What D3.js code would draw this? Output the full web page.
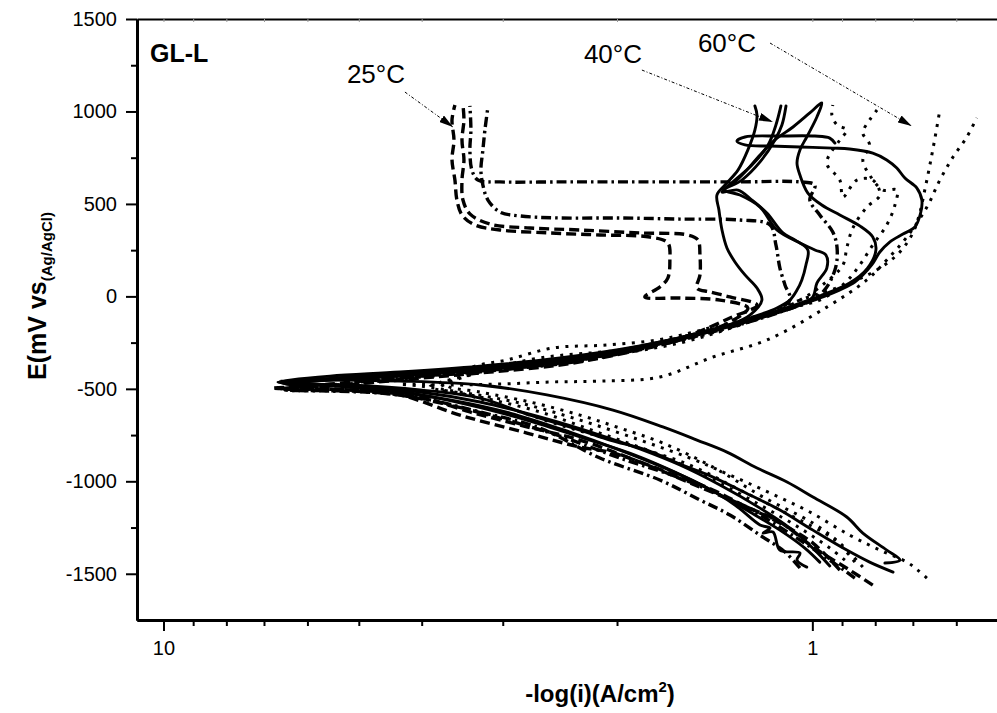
<!DOCTYPE html>
<html><head><meta charset="utf-8">
<script src="https://cdn.jsdelivr.net/npm/d3@7"></script>
<style>
body{margin:0;background:#fff}
svg{display:block}
text{font-family:"Liberation Sans",Arial,Helvetica,sans-serif;fill:#000}
</style>
</head><body>
<svg id="chart" width="997" height="713"></svg>
<script>
// ---------- tick values ----------
const xMajorTicks = [10, 1];
const xMinorTicks = [9, 8, 7, 6, 5, 4, 3, 2, 0.9, 0.8, 0.7, 0.6];
const yMajorTicks = [-1500, -1000, -500, 0, 500, 1000, 1500];
const yMinorTicks = [-1250, -750, -250, 250, 750, 1250];

// ---------- 25 °C curves  [ -log(i) , E (mV) ] ----------
const t25a = [[0.807,-1561],[0.876,-1480],[0.998,-1355],[1.122,-1220],[1.261,-1139],[1.423,-1047],[1.600,-977],[2.029,-847],[2.281,-815],[2.753,-739],[3.492,-642],[4.321,-533],[5.160,-506],[6.161,-501],[6.804,-496],
 [5.539,-485],[4.321,-452],[3.253,-414],[2.449,-371],[1.911,-301],[1.545,-220],[1.340,-139],[1.257,-63],[1.388,-20],[1.600,-9],[1.812,-3],[1.718,51],[1.670,99],[1.658,197],[1.670,289],[1.780,321],[2.125,332],[2.537,343],[3.030,359],[3.311,386],[3.467,440],[3.530,521],[3.555,629],[3.592,738],[3.567,846],[3.592,954],[3.555,1035]];
const t25b = [[0.907,-1480],[0.998,-1334],[1.122,-1226],[1.261,-1139],[1.490,-1031],[1.844,-896],[2.281,-777],[2.823,-696],[3.371,-625],[4.025,-544],[4.807,-512],[5.739,-501],[6.614,-501],
 [5.539,-474],[4.321,-441],[3.253,-404],[2.449,-360],[1.911,-290],[1.545,-209],[1.340,-117],[1.217,-47],[1.340,-3],[1.438,24],[1.506,45],[1.490,116],[1.490,224],[1.501,305],[1.556,332],[1.844,343],[2.281,359],[2.724,370],[3.140,391],[3.371,446],[3.455,521],[3.467,629],[3.443,738],[3.467,846],[3.443,954],[3.455,1035]];
const t25c = [[0.860,-1523],[0.940,-1426],[1.045,-1318],[1.204,-1182],[1.388,-1074],[1.600,-982],[1.980,-874],[2.449,-755],[3.030,-658],[3.618,-588],[4.321,-533],[5.160,-512],[6.385,-506],
 [5.346,-474],[4.025,-431],[3.030,-393],[2.281,-344],[1.780,-263],[1.438,-182],[1.204,-106],[1.083,-20],[1.102,62],[1.122,153],[1.138,278],[1.162,386],[1.293,413],[1.600,418],[1.980,424],[2.449,424],[2.823,435],[3.030,456],[3.162,521],[3.219,602],[3.242,683],[3.219,792],[3.196,900],[3.162,1024]];
const t25d = [[1.045,-1469],[1.102,-1382],[1.204,-1291],[1.340,-1182],[1.490,-1101],[1.718,-993],[2.125,-874],[2.630,-712],[3.253,-625],[3.885,-560],[4.639,-523],[5.539,-512],[6.498,-506],
 [5.346,-479],[4.025,-436],[3.030,-398],[2.281,-350],[1.780,-274],[1.388,-182],[1.122,-85],[0.974,7],[0.923,143],[0.916,262],[0.930,348],[0.974,440],[1.009,521],[0.991,602],[1.045,619],[1.293,619],[1.600,619],[1.980,619],[2.449,619],[3.030,619],[3.276,629],[3.347,683],[3.371,792],[3.359,900],[3.371,1030]];

// ---------- 40 °C curves ----------
const t40a = [[0.940,-1458],[0.991,-1372],[1.083,-1253],[1.204,-1145],[1.388,-1020],[1.600,-912],[1.844,-825],[2.125,-750],[2.630,-652],[3.253,-571],[4.025,-517],[5.160,-485],[6.385,-469],[6.661,-463],
 [5.539,-452],[4.321,-431],[3.253,-398],[2.449,-355],[1.911,-290],[1.545,-220],[1.340,-155],[1.248,-101],[1.196,-20],[1.217,45],[1.270,116],[1.316,186],[1.354,262],[1.378,359],[1.393,467],[1.403,548],[1.364,602],[1.302,683],[1.257,792],[1.226,900],[1.217,981],[1.226,1030]];
const t40b = [[1.020,-1464],[1.056,-1426],[1.045,-1388],[1.122,-1372],[1.150,-1274],[1.191,-1280],[1.162,-1253],[1.204,-1236],[1.316,-1128],[1.490,-1015],[1.718,-917],[1.980,-831],[2.364,-734],[2.925,-631],[3.618,-560],[4.639,-506],[5.739,-479],[6.567,-469],
 [5.346,-441],[4.025,-414],[3.030,-377],[2.281,-328],[1.780,-258],[1.438,-182],[1.248,-117],[1.134,-63],[1.083,-20],[1.056,34],[1.038,89],[1.023,170],[1.016,251],[1.064,305],[1.110,343],[1.175,451],[1.239,521],[1.302,575],[1.378,564],[1.316,629],[1.239,710],[1.170,819],[1.138,927],[1.118,1030]];
const t40c = [[0.751,-1491],[0.816,-1437],[0.885,-1372],[0.998,-1264],[1.122,-1155],[1.248,-1074],[1.423,-977],[1.600,-907],[1.799,-831],[2.051,-777],[2.281,-723],[2.724,-642],[3.253,-550],[4.025,-506],[5.160,-479],[6.498,-469],
 [5.160,-436],[3.885,-404],[2.925,-371],[2.202,-323],[1.718,-252],[1.388,-171],[1.162,-90],[0.974,2],[0.876,72],[0.822,153],[0.798,251],[0.807,321],[0.845,381],[0.907,440],[0.967,494],[1.016,559],[1.045,656],[1.056,721],[1.045,792],[1.020,862],[0.984,970],[0.967,1046],[1.009,992],[1.071,916],[1.142,846],[1.204,765],[1.270,672],[1.331,602]];
const t40d = [[0.773,-1442],[0.733,-1426],[0.768,-1372],[0.836,-1280],[0.885,-1193],[0.998,-1085],[1.094,-1004],[1.217,-928],[1.354,-842],[1.506,-777],[1.700,-706],[2.029,-615],[2.565,-533],[3.253,-479],[4.321,-458],[5.739,-452],[6.614,-458],
 [5.539,-431],[4.321,-409],[3.253,-377],[2.449,-333],[1.844,-268],[1.438,-187],[1.162,-95],[0.974,-9],[0.860,78],[0.810,170],[0.787,240],[0.760,294],[0.725,337],[0.695,375],[0.681,451],[0.678,521],[0.690,586],[0.720,640],[0.741,694],[0.768,738],[0.807,775],[0.876,797],[0.930,802],[1.045,808],[1.162,813],[1.270,819],[1.307,840],[1.270,862],[1.122,867],[0.991,867],[0.940,856],[0.923,829]];
const t40e = [[0.974,-1437],[1.027,-1361],[1.122,-1264],[1.248,-1166],[1.413,-1058],[1.629,-950],[1.877,-858],[2.202,-777],[2.724,-674],[3.371,-588],[4.321,-512],[5.539,-479],[6.498,-474],
 [5.346,-447],[4.025,-420],[3.030,-382],[2.281,-339],[1.780,-268],[1.388,-177],[1.162,-101],[1.045,-47],[0.998,-3],[0.984,72],[0.950,153],[0.953,224],[0.991,251],[1.045,289],[1.134,359],[1.204,483],[1.293,548],[1.364,575],[1.284,629],[1.204,727],[1.142,846],[1.114,927],[1.098,1030]];

// ---------- 60 °C curves ----------
const t60a = [[0.666,-1523],[0.688,-1480],[0.715,-1437],[0.787,-1372],[0.876,-1291],[1.009,-1166],[1.162,-1063],[1.340,-966],[1.545,-874],[1.844,-777],[2.281,-669],[2.823,-577],[3.492,-517],[4.025,-485],[4.321,-474],
 [3.618,-479],[3.030,-474],[2.537,-463],[2.125,-458],[1.718,-436],[1.423,-328],[1.175,-236],[0.950,-58],[0.824,89],[0.768,197],[0.715,321],[0.666,483],[0.636,629],[0.607,754],[0.578,862],[0.558,965]];
const t60b = [[0.836,-1464],[0.907,-1334],[0.998,-1226],[1.191,-1085],[1.423,-923],[1.700,-793],[1.980,-712],[2.281,-642],[2.724,-571],[3.253,-517],[3.658,-479],
 [3.371,-387],[2.956,-344],[2.511,-279],[2.073,-263],[1.737,-236],[1.545,-198],[1.423,-166],[1.204,-101],[1.045,-20],[0.876,72],[0.787,153],[0.733,240],[0.700,343],[0.683,451],[0.671,575],[0.659,710],[0.648,846],[0.636,1008]];
const t60c = [[0.891,-1426],[0.940,-1361],[1.045,-1253],[1.204,-1128],[1.438,-982],[1.718,-858],[2.125,-739],[2.630,-625],[3.253,-544],[3.750,-496],
 [3.253,-409],[2.630,-333],[1.980,-290],[1.490,-214],[1.204,-117],[1.045,-20],[0.957,72],[0.897,170],[0.885,262],[0.866,370],[0.824,483],[0.787,548],[0.807,629],[0.854,629],[0.897,537],[0.907,629],[0.950,721],[0.907,846],[0.885,900],[0.916,927],[0.933,981],[0.930,1035]];
const t60d = [[0.860,-1437],[0.923,-1318],[1.083,-1182],[1.293,-1047],[1.545,-912],[1.911,-804],[2.449,-696],[3.030,-588],[3.492,-523],[3.885,-490],
 [3.371,-425],[2.724,-360],[2.125,-323],[1.600,-252],[1.293,-155],[1.083,-63],[0.974,-20],[0.891,72],[0.845,170],[0.807,278],[0.768,386],[0.746,494],[0.741,575],[0.778,575],[0.816,656],[0.836,738],[0.816,819],[0.836,884],[0.816,954],[0.795,1008]];

// ---------- annotations ----------
const tempLabels = [
  {text:"25°C", x:4.705, e:1154},
  {text:"40°C", x:2.029, e:1262},
  {text:"60°C", x:1.354, e:1321}
];
const tempArrows = [
  [[4.245,1105],[3.580,916]],
  [[1.831,1224],[1.150,943]],
  [[1.162,1370],[0.703,921]]
];

// ---------- layout ----------
const L = 137, R = 997, T = 19, B = 620;
const svg = d3.select("#chart");

const x = d3.scaleLog().domain([10.985, 0.5193]).range([L, R]);
const y = d3.scaleLinear().domain([-1750, 1500]).range([B, T]);

function styleAxis(g, w){
  g.select(".domain").attr("stroke","#000").attr("stroke-width",w);
  g.selectAll(".tick line").attr("stroke","#000").attr("stroke-width",2);
  g.selectAll(".tick text").attr("font-size",20).attr("font-family",'"Liberation Sans",Arial,sans-serif');
}
const gTop = svg.append("g").attr("transform",`translate(0,${T})`)
  .call(d3.axisTop(x).tickValues(xMajorTicks.concat(xMinorTicks)).tickSizeInner(-3).tickSizeOuter(0).tickFormat(""));
gTop.select(".domain").attr("stroke","#000").attr("stroke-width",2);
gTop.selectAll(".tick line").attr("stroke","#999").attr("stroke-width",1);

const gBMinor = svg.append("g").attr("transform",`translate(0,${B})`)
  .call(d3.axisBottom(x).tickValues(xMinorTicks).tickSize(6).tickSizeOuter(0).tickFormat(""));
styleAxis(gBMinor,3);
const gB = svg.append("g").attr("transform",`translate(0,${B})`)
  .call(d3.axisBottom(x).tickValues(xMajorTicks).tickSize(11).tickSizeOuter(0).tickPadding(10).tickFormat(d=>String(d)));
styleAxis(gB,3);

const gLMinor = svg.append("g").attr("transform",`translate(${L},0)`)
  .call(d3.axisLeft(y).tickValues(yMinorTicks).tickSize(6).tickSizeOuter(0).tickFormat(""));
styleAxis(gLMinor,3);
const gLAx = svg.append("g").attr("transform",`translate(${L},0)`)
  .call(d3.axisLeft(y).tickValues(yMajorTicks).tickSize(11).tickSizeOuter(0).tickPadding(9).tickFormat(d=>String(d)));
styleAxis(gLAx,3);

const xt = svg.append("text").attr("x",600).attr("y",702).attr("text-anchor","middle")
  .attr("font-size",24).attr("font-weight","bold");
xt.append("tspan").text("-log(i)(A/cm");
xt.append("tspan").attr("font-size",15).attr("dy",-10).text("2");
xt.append("tspan").attr("dy",10).text(")");

const yt = svg.append("text").attr("transform","translate(46,296) rotate(-90)").attr("text-anchor","middle")
  .attr("font-size",25).attr("font-weight","bold");
yt.append("tspan").text("E(mV vs");
yt.append("tspan").attr("font-size",15).attr("dy",6).text("(Ag/AgCl)");

svg.append("text").attr("x",150).attr("y",62).attr("font-size",25).attr("font-weight","bold").text("GL-L");

const line = d3.line().x(d=>x(d[0])).y(d=>y(d[1])).curve(d3.curveCatmullRom.alpha(0.5));
const styles = {
  dash:    {w:3.4, dash:"10,5",       cap:"butt"},
  dashdot: {w:3.4, dash:"10,4,2.5,4", cap:"butt"},
  solid:   {w:2.9, dash:null,         cap:"round"},
  dot:     {w:3,   dash:"3,6.5",      cap:"butt"}
};
const series = [
  {d:t60a,s:"dot"},{d:t60b,s:"dot"},{d:t60c,s:"dot"},{d:t60d,s:"dot"},
  {d:t25a,s:"dash"},{d:t25b,s:"dash"},{d:t25c,s:"dashdot"},{d:t25d,s:"dashdot"},
  {d:t40a,s:"solid"},{d:t40b,s:"solid"},{d:t40c,s:"solid"},{d:t40d,s:"solid"},{d:t40e,s:"solid"}
];
const gc = svg.append("g");
series.forEach(sr=>{
  const st = styles[sr.s];
  gc.append("path").attr("d",line(sr.d)).attr("fill","none").attr("stroke","#000")
    .attr("stroke-width",st.w).attr("stroke-dasharray",st.dash).attr("stroke-linecap",st.cap)
    .attr("stroke-linejoin","round");
});

const defs = svg.append("defs");
defs.append("marker").attr("id","ah").attr("viewBox","0 0 14 8").attr("refX",14).attr("refY",4)
  .attr("markerWidth",14).attr("markerHeight",8).attr("markerUnits","userSpaceOnUse").attr("orient","auto")
  .append("path").attr("d","M0,0 L14,4 L0,8 Z").attr("fill","#000");
tempArrows.forEach(a=>{
  svg.append("line").attr("x1",x(a[0][0])).attr("y1",y(a[0][1])).attr("x2",x(a[1][0])).attr("y2",y(a[1][1]))
    .attr("stroke","#000").attr("stroke-width",1).attr("stroke-dasharray","3,2,1,2").attr("marker-end","url(#ah)");
});
tempLabels.forEach(t=>{
  svg.append("text").attr("x",x(t.x)).attr("y",y(t.e)).attr("text-anchor","middle").attr("font-size",26).text(t.text);
});
</script>
</body></html>
